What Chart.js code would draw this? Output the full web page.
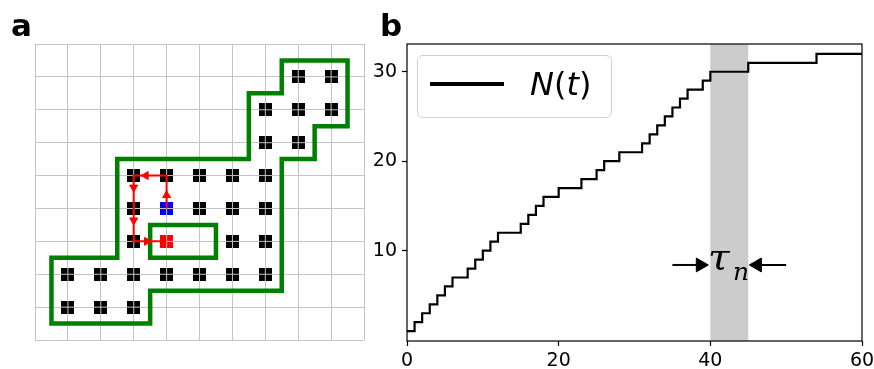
<!DOCTYPE html>
<html><head><meta charset="utf-8">
<script src="https://cdn.jsdelivr.net/npm/chart.js@4.4.1/dist/chart.umd.min.js"></script>
<style>
html,body{margin:0;padding:0;background:#fff;}
#wrap{position:relative;width:874px;height:369px;overflow:hidden;}
#ca{position:absolute;left:0;top:0;}
#cb{position:absolute;left:370px;top:0;}
.lab{position:absolute;font-family:'DejaVu Sans';font-weight:bold;font-size:31px;line-height:1;}
#legend{position:absolute;left:417px;top:55px;width:193px;height:61px;border:1px solid #d0d0d0;border-radius:6px;background:rgba(255,255,255,0.8);}
#legline{position:absolute;left:430px;top:82px;width:74px;height:4px;background:#000;}
#legtext{position:absolute;left:530px;top:68px;font-family:'DejaVu Sans';font-size:32px;line-height:1;white-space:nowrap;}
.tau{position:absolute;font-family:'DejaVu Serif';font-style:italic;line-height:1;white-space:nowrap;}
</style>
</head><body>
<div id="wrap">
<canvas id="ca" width="370" height="369"></canvas>
<canvas id="cb" width="504" height="369"></canvas>
<div class="lab" style="left:11px;top:10px;">a</div>
<div class="lab" style="left:380px;top:10px;">b</div>
<div id="legend"></div>
<div id="legline"></div>
<div id="legtext"><i>N</i>(<i>t</i>)</div>
<div class="tau" style="left:708px;top:241px;font-size:35px;transform:scaleX(1.12);transform-origin:left top;">τ</div>
<div class="tau" style="left:733px;top:259px;font-size:25px;">n</div>
</div>
<script>
// ---------- Panel a data (lattice coordinates: column, row) ----------
const gridCols = [0,1,2,3,4,5,6,7,8,9,10];
const gridRows = [0,1,2,3,4,5,6,7,8,9];
const blackCells = [[8,1],[9,1],[7,2],[8,2],[9,2],[7,3],[8,3],
  [3,4],[4,4],[5,4],[6,4],[7,4],[3,5],[5,5],[6,5],[7,5],
  [3,6],[6,6],[7,6],[1,7],[2,7],[3,7],[4,7],[5,7],[6,7],[7,7],[1,8],[2,8],[3,8]];
const startCell = [[4,5]];
const endCell = [[4,6]];
const outerBoundary = [[7.5,0.5],[9.5,0.5],[9.5,2.5],[8.5,2.5],[8.5,3.5],[7.5,3.5],[7.5,7.5],
  [3.5,7.5],[3.5,8.5],[0.5,8.5],[0.5,6.5],[2.5,6.5],[2.5,3.5],[6.5,3.5],[6.5,1.5],[7.5,1.5],[7.5,0.5]];
const innerBoundary = [[3.5,5.5],[5.5,5.5],[5.5,6.5],[3.5,6.5],[3.5,5.5]];
const walkPath = [[4,5],[4,4],[3,4],[3,5],[3,6],[4,6]];
const walkHeads = [[4,4.6],[3.37,4],[3,4.36],[3,5.36],[3.4,6]];
const walkHeadAngles = [0,270,180,180,90];

// ---------- Panel b data ----------
const tValues = [0,1,2,3,4,5,6,8,9,10,11,12,15,16,17,18,20,23,25,26,28,31,32,33,34,35,36,37,39,40,45,54,60];
const nValues = [1,2,3,4,5,6,7,8,9,10,11,12,13,14,15,16,17,18,19,20,21,22,23,24,25,26,27,28,29,30,31,32,32];
const xTicksB = [0,20,40,60];
const yTicksB = [10,20,30];
const shadeSpan = [40,45];
const tauLeftArrow = [[35,8.4],[39.0,8.4]];
const tauRightArrow = [[50,8.4],[45.8,8.4]];
const tauHeads = [[38.68,8.4],[46.2,8.4]];
const tauHeadAngles = [90,270];

const pts = a => a.map(p => ({x:p[0], y:p[1]}));

function cellMarker(color){
  const c = document.createElement('canvas'); c.width = 13; c.height = 13;
  const g = c.getContext('2d');
  g.fillStyle = color; g.fillRect(0,0,13,13);
  g.fillStyle = '#c4c4c4'; g.fillRect(6,0,1,13); g.fillRect(0,6,13,1);
  return c;
}

const gridOpts = {color:'#c4c4c4', lineWidth:1, drawTicks:false};
new Chart(document.getElementById('ca'), {
  type:'scatter',
  data:{datasets:[
    {data:pts(walkHeads), pointStyle:'triangle', pointRadius:4.6, rotation:walkHeadAngles,
     backgroundColor:'#ff0000', borderColor:'#ff0000', borderWidth:1, order:0},
    {data:pts(walkPath), showLine:true, borderColor:'#ff0000', borderWidth:2, pointRadius:0, order:1, borderJoinStyle:'miter'},
    {data:pts(outerBoundary), showLine:true, borderColor:'#008000', borderWidth:4.5, pointRadius:0, order:2, borderJoinStyle:'miter', borderCapStyle:'square'},
    {data:pts(innerBoundary), showLine:true, borderColor:'#008000', borderWidth:4.5, pointRadius:0, order:2, borderJoinStyle:'miter', borderCapStyle:'square'},
    {data:pts(startCell), pointStyle:cellMarker('#0000ff'), order:3},
    {data:pts(endCell), pointStyle:cellMarker('#ff0000'), order:3},
    {data:pts(blackCells), pointStyle:cellMarker('#000000'), order:4}
  ]},
  options:{
    responsive:false, animation:false, events:[],
    layout:{padding:{left:35, top:44, right:6, bottom:29}},
    plugins:{legend:{display:false}, tooltip:{enabled:false}},
    scales:{
      x:{type:'linear', min:0, max:10, ticks:{display:false}, grid:gridOpts, border:{display:false},
         afterBuildTicks:s=>{s.ticks = gridCols.map(v=>({value:v}));}},
      y:{type:'linear', min:0, max:9, reverse:true, ticks:{display:false}, grid:gridOpts, border:{display:false},
         afterBuildTicks:s=>{s.ticks = gridRows.map(v=>({value:v}));}}
    }
  }
});

const frameAndShade = {
  id:'frameAndShade',
  beforeDatasetsDraw(chart){
    const {ctx, chartArea:a, scales:{x}} = chart;
    const x0 = x.getPixelForValue(shadeSpan[0]), x1 = x.getPixelForValue(shadeSpan[1]);
    ctx.save(); ctx.fillStyle = '#cccccc'; ctx.fillRect(x0, a.top, x1-x0, a.bottom-a.top); ctx.restore();
  },
  afterDraw(chart){
    const {ctx, chartArea:a} = chart;
    ctx.save(); ctx.strokeStyle = '#000'; ctx.lineWidth = 1.2;
    ctx.strokeRect(a.left, a.top, a.right-a.left, a.bottom-a.top); ctx.restore();
  }
};

const tickFont = {family:'DejaVu Sans', size:19};
new Chart(document.getElementById('cb'), {
  type:'scatter',
  data:{datasets:[
    {label:'N(t)', data:tValues.map((t,i)=>({x:t, y:nValues[i]})), showLine:true, stepped:'before',
     borderColor:'#000', borderWidth:2.2, pointRadius:0, order:1},
    {data:pts(tauLeftArrow), showLine:true, borderColor:'#000', borderWidth:2, pointRadius:0, order:2},
    {data:pts(tauRightArrow), showLine:true, borderColor:'#000', borderWidth:2, pointRadius:0, order:2},
    {data:pts(tauHeads), pointStyle:'triangle', pointRadius:8, rotation:tauHeadAngles,
     backgroundColor:'#000', borderColor:'#000', borderWidth:1, order:0}
  ]},
  options:{
    responsive:false, animation:false, events:[],
    layout:{padding:{left:0, top:44, right:12, bottom:0}},
    plugins:{legend:{display:false}, tooltip:{enabled:false}},
    scales:{
      x:{type:'linear', min:0, max:60,
         ticks:{font:tickFont, color:'#000', padding:4, maxRotation:0},
         grid:{drawOnChartArea:false, drawTicks:true, tickLength:5, tickColor:'#000', tickWidth:1.2},
         border:{display:false},
         afterBuildTicks:s=>{s.ticks = xTicksB.map(v=>({value:v}));},
         afterFit:s=>{s.height = 28; s.paddingLeft = 0; s.paddingRight = 0;}},
      y:{type:'linear', min:-0.1, max:33.1,
         ticks:{font:tickFont, color:'#000', padding:5},
         grid:{drawOnChartArea:false, drawTicks:true, tickLength:5, tickColor:'#000', tickWidth:1.2},
         border:{display:false},
         afterBuildTicks:s=>{s.ticks = yTicksB.map(v=>({value:v}));},
         afterFit:s=>{s.width = 37; s.paddingTop = 0; s.paddingBottom = 0;}}
    }
  },
  plugins:[frameAndShade]
});
</script>
</body></html>
